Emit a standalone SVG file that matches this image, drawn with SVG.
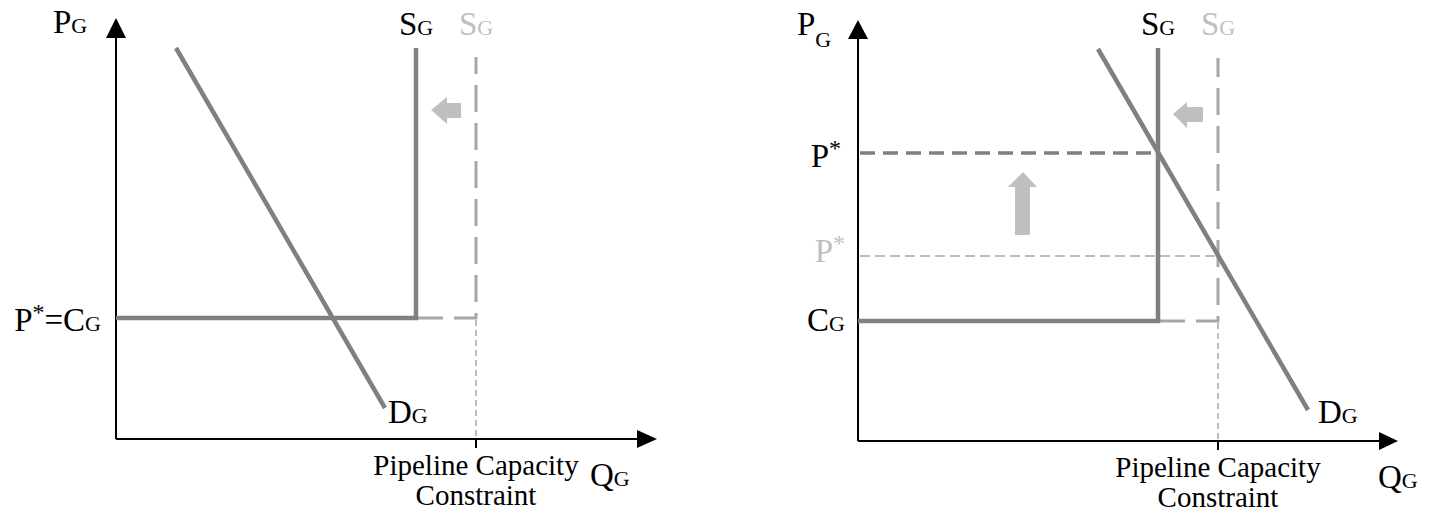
<svg xmlns="http://www.w3.org/2000/svg" width="1437" height="516" viewBox="0 0 1437 516">
<style>
text{font-family:"Liberation Serif","Times New Roman",serif;font-size:33px;fill:#000}
.sub{font-size:22px}
.star{font-size:24px}
.light{fill:#bfbfbf}
.axis{stroke:#000;stroke-width:2;fill:none}
.curve{stroke:#808080;stroke-width:4.5;fill:none}
.dashS{stroke:#a6a6a6;stroke-width:3;fill:none;stroke-dasharray:27 11}
.thin{stroke:#a6a6a6;stroke-width:1.5;fill:none;stroke-dasharray:6 4}
.thin2{stroke:#a6a6a6;stroke-width:1.5;fill:none;stroke-dasharray:10 5}
.pdash{stroke:#808080;stroke-width:3.5;fill:none;stroke-dasharray:15 8}
.shift{fill:#bfbfbf}
.cap{font-size:29px}
</style>

<g id="left-chart">
  <g id="left-axes">
    <line class="axis" x1="116" y1="439" x2="116" y2="36"/>
    <polygon points="116,18 106,38 126,38" fill="#000"/>
    <line class="axis" x1="116" y1="439" x2="639" y2="439"/>
    <polygon points="657,439 637,430 637,448" fill="#000"/>
    <line class="axis" x1="476" y1="439" x2="476" y2="448"/>
  </g>
  <g id="left-supply-old">
    <polyline class="dashS" points="416,318 476,318 476,57"/>
    <line class="thin" x1="476" y1="320" x2="476" y2="438"/>
  </g>
  <g id="left-supply">
    <polyline class="curve" points="116,318 416,318 416,48"/>
  </g>
  <g id="left-demand">
    <line class="curve" x1="176" y1="48" x2="385" y2="408"/>
  </g>
  <g id="left-shift-arrow">
    <polygon class="shift" points="431,110 447,97 447,103 461,103 461,118 447,118 447,124"/>
  </g>
  <g id="left-labels">
    <text x="53" y="33">P<tspan class="sub">G</tspan></text>
    <text x="416" y="35" text-anchor="middle">S<tspan class="sub">G</tspan></text>
    <text x="476" y="35" text-anchor="middle" class="light">S<tspan class="sub">G</tspan></text>
    <text x="101" y="331" text-anchor="end">P<tspan class="star" dy="-11">*</tspan><tspan dy="11">=C</tspan><tspan class="sub">G</tspan></text>
    <text x="388" y="423">D<tspan class="sub">G</tspan></text>
    <text x="590" y="486">Q<tspan class="sub">G</tspan></text>
    <text x="476" y="475" text-anchor="middle" class="cap">Pipeline Capacity</text>
    <text x="476" y="505" text-anchor="middle" class="cap">Constraint</text>
  </g>
</g>

<g id="right-chart">
  <g id="right-axes">
    <line class="axis" x1="858" y1="441" x2="858" y2="38"/>
    <polygon points="858,20 848,39 868,39" fill="#000"/>
    <line class="axis" x1="858" y1="441" x2="1380" y2="441"/>
    <polygon points="1398,441 1379,432 1379,450" fill="#000"/>
    <line class="axis" x1="1218" y1="441" x2="1218" y2="450"/>
  </g>
  <g id="right-price-lines">
    <line class="pdash" x1="860" y1="153" x2="1158" y2="153"/>
    <line class="thin2" x1="860" y1="256" x2="1218" y2="256"/>
  </g>
  <g id="right-supply-old">
    <polyline class="dashS" points="1158,321 1218,321 1218,58"/>
    <line class="thin" x1="1218" y1="323" x2="1218" y2="440"/>
  </g>
  <g id="right-supply">
    <polyline class="curve" points="858,321 1158,321 1158,48"/>
  </g>
  <g id="right-demand">
    <line class="curve" x1="1098" y1="49" x2="1308" y2="410"/>
  </g>
  <g id="right-shift-arrows">
    <polygon class="shift" points="1173,114 1187,102 1187,107 1203,107 1203,122 1187,122 1187,128"/>
    <polygon class="shift" points="1023,172 1037,187 1030,187 1030,235 1015,235 1015,187 1008,187"/>
  </g>
  <g id="right-labels">
    <text x="797" y="35">P<tspan class="sub" dy="12">G</tspan></text>
    <text x="1158" y="35" text-anchor="middle">S<tspan class="sub">G</tspan></text>
    <text x="1218" y="35" text-anchor="middle" class="light">S<tspan class="sub">G</tspan></text>
    <text x="841" y="167" text-anchor="end">P<tspan class="star" dy="-11">*</tspan></text>
    <text x="845" y="262" text-anchor="end" class="light">P<tspan class="star" dy="-11">*</tspan></text>
    <text x="845" y="331" text-anchor="end">C<tspan class="sub">G</tspan></text>
    <text x="1318" y="423">D<tspan class="sub">G</tspan></text>
    <text x="1378" y="488">Q<tspan class="sub">G</tspan></text>
    <text x="1218" y="477" text-anchor="middle" class="cap">Pipeline Capacity</text>
    <text x="1218" y="507" text-anchor="middle" class="cap">Constraint</text>
  </g>
</g>
</svg>
